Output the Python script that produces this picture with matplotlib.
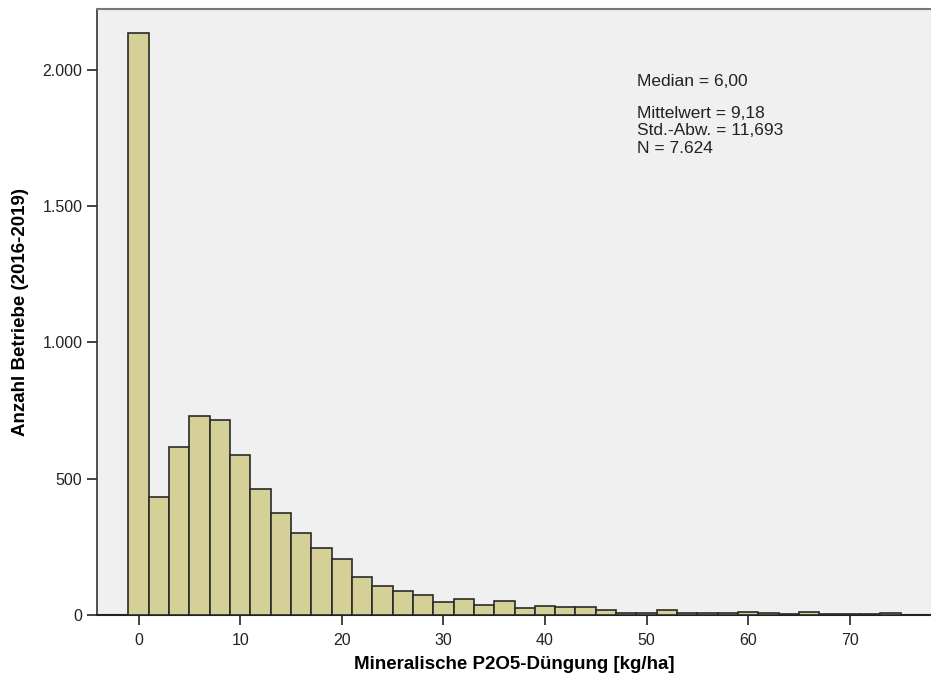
import matplotlib.pyplot as plt
from matplotlib.ticker import FuncFormatter

# bin centres (kg/ha), bin width 2
centers = [0, 2, 4, 6, 8, 10, 12, 14, 16, 18, 20, 22, 24, 26, 28, 30, 32, 34,
           36, 38, 40, 42, 44, 46, 48, 50, 52, 54, 56, 58, 60, 62, 64, 66,
           68, 70, 72, 74]
counts = [2135, 434, 617, 730, 715, 586, 461, 373, 300, 247, 205, 141, 108, 88,
          72, 49, 59, 38, 52, 25, 34, 30, 28, 17, 8, 8, 17, 8, 8, 8,
          12, 6, 5, 12, 4, 2, 4, 8]
stats_text = ["Median = 6,00", "Mittelwert = 9,18", "Std.-Abw. = 11,693", "N = 7.624"]

plt.rcParams['font.family'] = ['Liberation Sans', 'DejaVu Sans']

fig = plt.figure(figsize=(9.31, 6.84), dpi=100)
ax = fig.add_axes([97 / 931, 69 / 684, 834 / 931, 606 / 684])
ax.set_facecolor('#F0F0F0')

ax.bar(centers, counts, width=2, color='#D5CF98', edgecolor='#2a2a2a',
       linewidth=1.2, zorder=3)

ax.set_xlim(-4.1, 78.0)
ax.set_ylim(0, 2223)
ax.set_xticks([0, 10, 20, 30, 40, 50, 60, 70])
ax.set_yticks([0, 500, 1000, 1500, 2000])
ax.yaxis.set_major_formatter(FuncFormatter(lambda v, p: f"{int(v):,}".replace(',', '.')))
ax.tick_params(axis='both', direction='out', length=7, width=1.2,
               labelsize=11.5, colors='#222222', labelcolor='#222222')
ax.tick_params(axis='x', pad=6)

ax.spines['top'].set_color('#777777')
ax.spines['top'].set_linewidth(1.5)
ax.spines['right'].set_visible(False)
ax.spines['left'].set_color('#333333')
ax.spines['left'].set_linewidth(1.2)
ax.spines['bottom'].set_color('#222222')
ax.spines['bottom'].set_linewidth(1.5)

ax.set_xlabel('Mineralische P2O5-Düngung [kg/ha]', fontsize=13.5,
              fontweight='bold', labelpad=6)
ax.set_ylabel('Anzahl Betriebe (2016-2019)', fontsize=13.5,
              fontweight='bold', labelpad=10)

ys = [0.880, 0.828, 0.799, 0.769]
for s, y in zip(stats_text, ys):
    ax.text(0.647, y, s, transform=ax.transAxes, fontsize=12.5,
            color='#222222', va='center')

fig.savefig('out.png', dpi=100)
